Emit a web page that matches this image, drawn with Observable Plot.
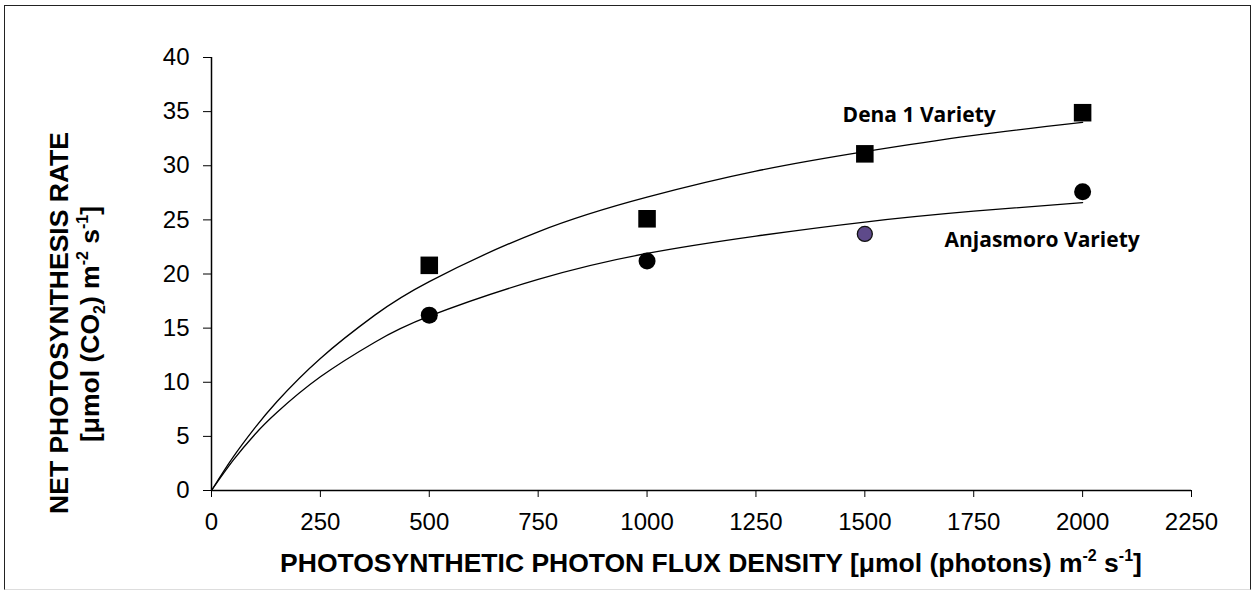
<!DOCTYPE html>
<html>
<head>
<meta charset="utf-8">
<script src="https://cdn.jsdelivr.net/npm/d3@7"></script>
<script src="https://cdn.jsdelivr.net/npm/@observablehq/plot@0.6"></script>
<style>
  html, body { margin: 0; padding: 0; background: #fff; }
  #wrap { position: relative; width: 1254px; height: 593px; overflow: hidden; }
  #frame { position: absolute; left: 4px; top: 5px; width: 1245px; height: 583px; border: 1.5px solid #222; border-bottom-color: #ddd; pointer-events: none; }
  svg { font-family: "Liberation Sans", Arial, sans-serif; }
</style>
</head>
<body>
<div id="wrap"><div id="frame"></div></div>
<script>
// Measured points
const ppfd = [500, 1000, 1500, 2000];
const dena = [20.8, 25.1, 31.1, 34.9];
const anjasmoro = [16.2, 21.2, 23.7, 27.6];
// Anjasmoro point at 1500 is drawn in purple in the reference
const anjHighlight = [false, false, true, false];

// Fitted curves, values
const curveX = [0, 50, 100, 150, 250, 375, 500, 750, 1000, 1250, 1500, 1750, 2000];
const denaCurve = [0, 3.1, 5.8, 8.2, 12.2, 16.2, 19.3, 23.9, 27.1, 29.5, 31.3, 32.8, 34.0];
const anjCurve = [0, 2.8, 5.2, 7.2, 10.5, 13.7, 16.1, 19.5, 21.9, 23.5, 24.8, 25.8, 26.6];

const xTicks = [0, 250, 500, 750, 1000, 1250, 1500, 1750, 2000, 2250];
const yTicks = [0, 5, 10, 15, 20, 25, 30, 35, 40];

const labels = [
  {text: "Dena 1 Variety", x: 1449, y: 34.0},
  {text: "Anjasmoro Variety", x: 1683, y: 22.5}
];

const denaPts = ppfd.map((x, i) => ({x, y: dena[i]}));
const anjPts = ppfd.map((x, i) => ({x, y: anjasmoro[i], hl: anjHighlight[i]}));
const denaLine = curveX.map((x, i) => ({x, y: denaCurve[i]}));
const anjLine = curveX.map((x, i) => ({x, y: anjCurve[i]}));

const chart = Plot.plot({
  width: 1254,
  height: 593,
  marginLeft: 211,
  marginRight: 63,
  marginTop: 57,
  marginBottom: 103,
  style: {fontFamily: '"Liberation Sans", Arial, sans-serif', fontSize: "24px", color: "#000", background: "transparent", overflow: "visible"},
  x: {domain: [0, 2250]},
  y: {domain: [0, 40]},
  marks: [
    Plot.axisX(xTicks, {tickSize: 7, tickPadding: 15, fontSize: 24, tickFormat: d => String(d), label: null, stroke: "#000"}),
    Plot.axisY(yTicks, {tickSize: 8, tickPadding: 14, fontSize: 24, tickFormat: d => String(d), label: null, stroke: "#000"}),
    Plot.ruleY([0], {stroke: "#000", strokeWidth: 1.5}),
    Plot.ruleX([0], {y1: 0, y2: 40, stroke: "#000", strokeWidth: 1.5}),
    Plot.line(denaLine, {x: "x", y: "y", stroke: "#000", strokeWidth: 1.3, curve: "natural"}),
    Plot.line(anjLine, {x: "x", y: "y", stroke: "#000", strokeWidth: 1.3, curve: "natural"}),
    Plot.dot(denaPts, {x: "x", y: "y", symbol: "square", r: 9.9, fill: "#000", stroke: "none"}),
    Plot.dot(anjPts.filter(d => !d.hl), {x: "x", y: "y", symbol: "circle", r: 8.5, fill: "#000", stroke: "none"}),
    Plot.dot(anjPts.filter(d => d.hl), {x: "x", y: "y", symbol: "circle", r: 7.5, fill: "#5E4A8A", stroke: "#111", strokeWidth: 1.3}),
    Plot.text(labels, {x: "x", y: "y", text: "text", textAnchor: "start", lineAnchor: "bottom", fontFamily: "'Open Sans', Lato, sans-serif", fontWeight: "bold", fontSize: 21, fill: "#000"})
  ]
});

document.getElementById("wrap").prepend(chart);

const svg = d3.select(chart);
// X axis title
const xt = svg.append("text")
  .attr("x", 711).attr("y", 572)
  .attr("text-anchor", "middle")
  .attr("font-weight", "bold").attr("font-size", 26.5).attr("fill", "#000");
xt.append("tspan").text("PHOTOSYNTHETIC PHOTON FLUX DENSITY [\u03bcmol (photons) m");
xt.append("tspan").attr("font-size", 16).attr("dy", -11).text("-2");
xt.append("tspan").attr("dy", 11).text(" s");
xt.append("tspan").attr("font-size", 16).attr("dy", -11).text("-1");
xt.append("tspan").attr("dy", 11).text("]");

// Y axis title (two lines)
svg.append("text")
  .attr("transform", "translate(68,323) rotate(-90)")
  .attr("text-anchor", "middle")
  .attr("font-weight", "bold").attr("font-size", 26.5).attr("fill", "#000")
  .text("NET PHOTOSYNTHESIS RATE");
const yt2 = svg.append("text")
  .attr("transform", "translate(99,324) rotate(-90)")
  .attr("text-anchor", "middle")
  .attr("font-weight", "bold").attr("font-size", 26.5).attr("fill", "#000");
yt2.append("tspan").text("[\u03bcmol (CO");
yt2.append("tspan").attr("font-size", 16).attr("dy", 6).text("2");
yt2.append("tspan").attr("dy", -6).text(") m");
yt2.append("tspan").attr("font-size", 16).attr("dy", -11).text("-2");
yt2.append("tspan").attr("dy", 11).text(" s");
yt2.append("tspan").attr("font-size", 16).attr("dy", -11).text("-1");
yt2.append("tspan").attr("dy", 11).text("]");
</script>
</body>
</html>
